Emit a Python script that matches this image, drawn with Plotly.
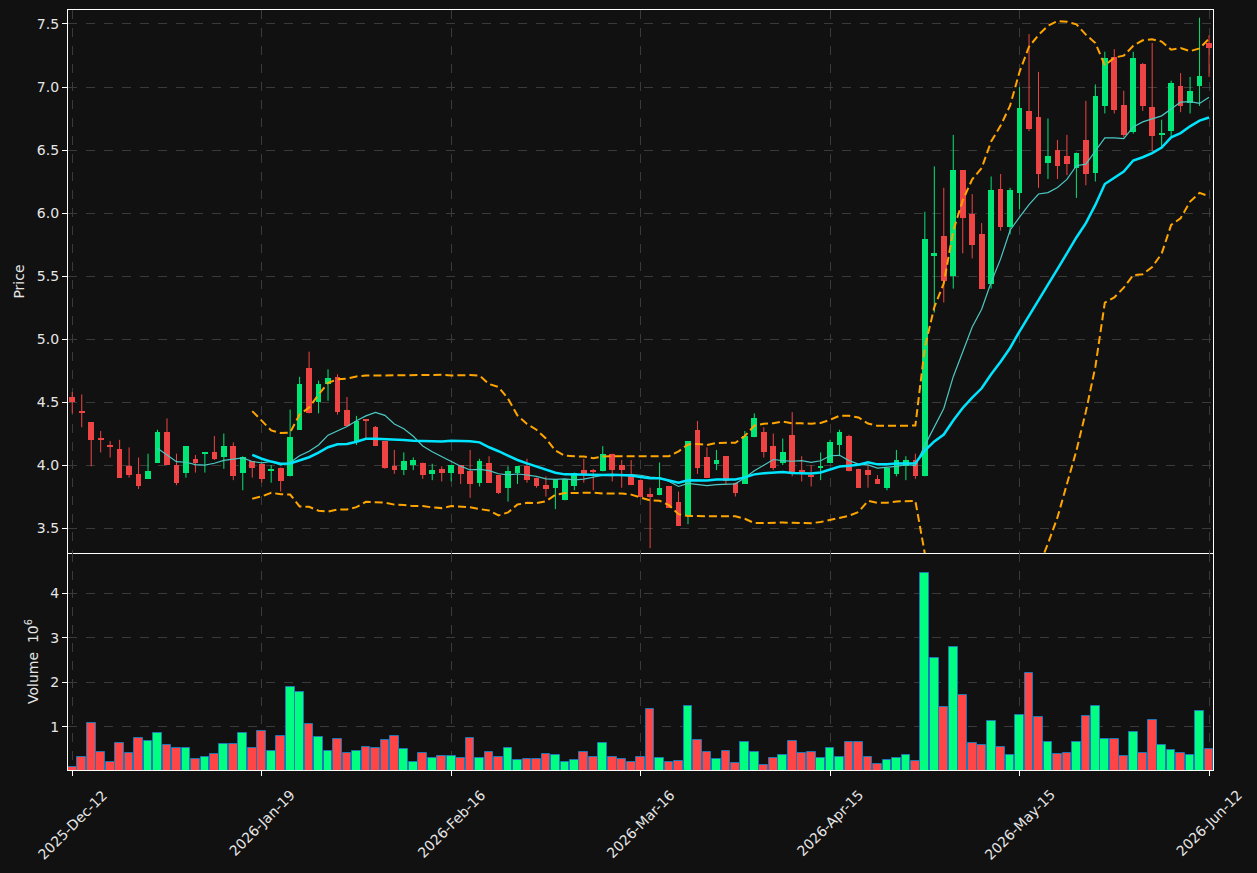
import pandas as pd
import plotly.graph_objects as go

# ---------------- data ----------------
tick_index = [0, 20, 40, 60, 80, 100, 120]
tick_labels = ["2025-Dec-12", "2026-Jan-19", "2026-Feb-16", "2026-Mar-16",
               "2026-Apr-15", "2026-May-15", "2026-Jun-12"]

opens = [4.54, 4.43, 4.34, 4.21, 4.16, 4.13, 3.99, 3.93, 3.89, 4.02,
         4.26, 4.00, 3.94, 4.05, 4.09, 4.10, 4.06, 4.15, 3.94, 4.03,
         4.01, 3.96, 3.98, 3.91, 4.28, 4.77, 4.50, 4.64, 4.70, 4.44,
         4.19, 4.36, 4.30, 4.19, 3.99, 3.96, 4.00, 4.02, 3.93, 3.97,
         3.94, 4.00, 3.95, 3.86, 4.02, 3.92, 3.82, 3.94, 3.99, 3.90,
         3.84, 3.82, 3.72, 3.83, 3.96, 3.96, 3.95, 4.09, 4.00, 3.93,
         3.88, 3.77, 3.76, 3.83, 3.71, 3.60, 4.28, 4.06, 4.01, 4.07,
         3.86, 3.85, 4.22, 4.26, 4.15, 4.02, 4.24, 3.96, 3.92, 3.98,
         4.02, 4.16, 4.23, 3.97, 3.96, 3.89, 3.82, 3.93, 3.99, 4.04,
         3.91, 5.66, 5.82, 5.50, 6.34, 5.99, 5.83, 5.44, 6.19, 5.89,
         6.16, 6.81, 6.76, 6.40, 6.50, 6.45, 6.36, 6.58, 6.32, 6.85,
         7.24, 6.86, 6.64, 7.18, 6.84, 6.62, 6.65, 7.01, 6.87, 7.01,
         7.35]
highs = [4.58, 4.56, 4.34, 4.27, 4.19, 4.20, 4.14, 4.06, 4.09, 4.28,
         4.37, 4.09, 4.15, 4.08, 4.10, 4.23, 4.25, 4.18, 4.07, 4.03,
         4.01, 4.00, 3.98, 4.44, 4.70, 4.90, 4.67, 4.76, 4.72, 4.54,
         4.39, 4.36, 4.31, 4.19, 4.12, 4.10, 4.06, 4.02, 4.01, 3.99,
         4.00, 4.00, 4.12, 4.05, 4.07, 3.92, 3.99, 3.99, 4.05, 3.90,
         3.91, 3.89, 3.89, 3.94, 4.05, 3.97, 4.15, 4.09, 4.04, 4.04,
         3.88, 3.82, 4.02, 3.83, 3.79, 4.19, 4.35, 4.14, 4.12, 4.07,
         3.86, 4.27, 4.41, 4.30, 4.25, 4.21, 4.42, 4.07, 4.00, 4.10,
         4.20, 4.28, 4.24, 3.97, 4.00, 3.92, 3.98, 4.12, 4.07, 4.09,
         6.01, 6.37, 6.20, 6.62, 6.34, 6.15, 5.92, 6.29, 6.31, 6.20,
         7.00, 7.42, 7.12, 6.75, 6.58, 6.62, 6.48, 6.89, 7.02, 7.28,
         7.30, 6.97, 7.28, 7.19, 7.35, 6.74, 7.05, 7.11, 7.08, 7.55,
         7.41]
lows = [4.41, 4.30, 3.99, 4.10, 4.06, 3.90, 3.90, 3.81, 3.89, 4.02,
        4.00, 3.84, 3.90, 3.94, 3.94, 4.04, 3.97, 3.88, 3.80, 3.90,
        3.86, 3.86, 3.79, 3.91, 4.28, 4.41, 4.41, 4.51, 4.40, 4.31,
        4.16, 4.20, 4.15, 3.97, 3.93, 3.92, 3.96, 3.89, 3.88, 3.87,
        3.87, 3.85, 3.74, 3.83, 3.86, 3.77, 3.71, 3.85, 3.86, 3.82,
        3.75, 3.65, 3.72, 3.80, 3.86, 3.80, 3.95, 3.87, 3.82, 3.84,
        3.75, 3.34, 3.76, 3.66, 3.52, 3.53, 3.93, 3.90, 3.96, 3.85,
        3.75, 3.85, 4.22, 4.06, 3.96, 4.00, 3.91, 3.87, 3.83, 3.88,
        4.02, 4.07, 3.95, 3.82, 3.82, 3.85, 3.80, 3.91, 3.88, 3.89,
        3.91, 5.21, 5.29, 5.40, 5.68, 5.64, 5.40, 5.40, 5.86, 5.83,
        6.03, 6.65, 6.20, 6.27, 6.27, 6.30, 6.12, 6.22, 6.25, 6.79,
        6.79, 6.60, 6.63, 6.81, 6.49, 6.51, 6.61, 6.80, 6.79, 6.85,
        7.08]
closes = [4.50, 4.42, 4.20, 4.20, 4.15, 3.90, 3.92, 3.83, 3.95, 4.26,
          4.00, 3.86, 4.15, 4.02, 4.10, 4.05, 4.15, 3.91, 4.06, 3.98,
          3.89, 3.97, 3.87, 4.22, 4.64, 4.41, 4.64, 4.69, 4.42, 4.31,
          4.35, 4.35, 4.15, 3.98, 3.96, 4.03, 4.04, 3.92, 3.96, 3.94,
          4.00, 3.93, 3.85, 4.03, 3.86, 3.78, 3.95, 3.99, 3.88, 3.83,
          3.81, 3.89, 3.89, 3.94, 3.92, 3.95, 4.09, 3.96, 3.96, 3.84,
          3.75, 3.75, 3.82, 3.66, 3.52, 4.19, 3.98, 3.90, 4.04, 3.87,
          3.78, 4.23, 4.37, 4.10, 3.98, 4.10, 3.93, 3.95, 3.91, 3.99,
          4.18, 4.26, 3.95, 3.82, 3.92, 3.85, 3.98, 4.04, 4.04, 3.91,
          5.79, 5.68, 5.46, 6.34, 5.96, 5.75, 5.40, 6.18, 5.89, 6.18,
          6.83, 6.67, 6.31, 6.45, 6.37, 6.39, 6.48, 6.31, 6.93, 7.23,
          6.82, 6.62, 7.23, 6.85, 6.61, 6.63, 7.03, 6.85, 6.97, 7.09,
          7.31]
volume_millions = [0.10, 0.33, 1.09, 0.44, 0.22, 0.64, 0.42, 0.75, 0.69, 0.87,
                   0.58, 0.52, 0.52, 0.28, 0.32, 0.40, 0.62, 0.62, 0.87, 0.52,
                   0.91, 0.46, 0.80, 1.90, 1.78, 1.07, 0.78, 0.46, 0.73, 0.42,
                   0.46, 0.55, 0.53, 0.71, 0.80, 0.51, 0.22, 0.42, 0.31, 0.35,
                   0.35, 0.31, 0.75, 0.31, 0.44, 0.33, 0.53, 0.26, 0.28, 0.28,
                   0.40, 0.37, 0.22, 0.26, 0.44, 0.33, 0.64, 0.33, 0.28, 0.22,
                   0.33, 1.40, 0.31, 0.22, 0.24, 1.47, 0.71, 0.44, 0.28, 0.46,
                   0.19, 0.66, 0.44, 0.15, 0.31, 0.37, 0.69, 0.42, 0.44, 0.31,
                   0.53, 0.33, 0.66, 0.65, 0.33, 0.17, 0.26, 0.31, 0.37, 0.24,
                   4.45, 2.55, 1.45, 2.79, 1.72, 0.64, 0.58, 1.13, 0.55, 0.37,
                   1.27, 2.21, 1.22, 0.66, 0.40, 0.42, 0.66, 1.25, 1.47, 0.73,
                   0.73, 0.35, 0.89, 0.42, 1.16, 0.60, 0.49, 0.42, 0.37, 1.36,
                   0.51]

# ---------------- derived overlays (moving averages / Bollinger) ----------------
n = len(closes)
idx = list(range(n))
cs = pd.Series(closes)
ma10 = cs.rolling(10).mean()
ma20 = cs.rolling(20).mean()
sd20 = cs.rolling(20).std(ddof=0)
bb_up = ma20 + 2 * sd20
bb_lo = ma20 - 2 * sd20

BG = "#111111"
GRID = "#3a3a3a"
TXT = "#e6e6e6"
C_UP = "#00e676"
C_DN = "#ef4444"
V_UP = "#00ff80"
V_DN = "#ff4545"

is_up = [c >= o for o, c in zip(opens, closes)]

fig = go.Figure()

# candle wicks
for flag, col in ((True, C_UP), (False, C_DN)):
    wx, wy = [], []
    for i in idx:
        if is_up[i] == flag:
            wx += [i, i, None]
            wy += [lows[i], highs[i], None]
    fig.add_trace(go.Scatter(x=wx, y=wy, mode="lines", line=dict(color=col, width=1),
                             xaxis="x", yaxis="y", hoverinfo="skip"))

# candle bodies
body_base = [min(o, c) for o, c in zip(opens, closes)]
body_h = [max(abs(c - o), 0.012) for o, c in zip(opens, closes)]
fig.add_trace(go.Bar(x=idx, y=body_h, base=body_base, width=0.6,
                     marker=dict(color=[C_UP if u else C_DN for u in is_up], line=dict(width=0)),
                     xaxis="x", yaxis="y"))

# overlays
fig.add_trace(go.Scatter(x=idx, y=bb_up, mode="lines",
                         line=dict(color="#ffa500", width=2, dash="8px,4px"), xaxis="x", yaxis="y"))
fig.add_trace(go.Scatter(x=idx, y=bb_lo, mode="lines",
                         line=dict(color="#ffa500", width=2, dash="8px,4px"), xaxis="x", yaxis="y"))
fig.add_trace(go.Scatter(x=idx, y=ma10, mode="lines",
                         line=dict(color="#4cc9c4", width=1.2), xaxis="x", yaxis="y"))
fig.add_trace(go.Scatter(x=idx, y=ma20, mode="lines",
                         line=dict(color="#00e5ff", width=2.5), xaxis="x", yaxis="y"))

# volume
fig.add_trace(go.Bar(x=idx, y=volume_millions, width=0.92,
                     marker=dict(color=[V_UP if u else V_DN for u in is_up],
                                 line=dict(color="#1f77b4", width=1)),
                     xaxis="x2", yaxis="y2"))

split = (770 - 553) / 760.0
xr = [-0.45, 120.42]
common_x = dict(range=xr, tickmode="array", tickvals=tick_index, showgrid=True,
                gridcolor=GRID, griddash="dash", gridwidth=1, zeroline=False,
                showline=True, linecolor="#ffffff", linewidth=1.2,
                ticks="outside", ticklen=5, tickcolor="#ffffff", showticklabels=False,
                automargin=False)
common_y = dict(showgrid=True, gridcolor=GRID, griddash="dash", gridwidth=1, zeroline=False,
                showline=True, linecolor="#ffffff", linewidth=1.2, mirror=True,
                ticks="outside", ticklen=5, tickcolor="#ffffff",
                tickfont=dict(size=14, color=TXT, family="DejaVu Sans"),
                automargin=False)

fig.update_layout(
    template="none",
    width=1257, height=873,
    margin=dict(l=68, r=44, t=10, b=103),
    paper_bgcolor=BG, plot_bgcolor=BG,
    showlegend=False, barmode="overlay", bargap=0,
    font=dict(family="DejaVu Sans", size=14, color=TXT),
    xaxis=dict(domain=[0, 1], anchor="y", mirror=True, **common_x),
    xaxis2=dict(domain=[0, 1], anchor="y2", matches="x", mirror=False, **common_x),
    yaxis=dict(domain=[split, 1], anchor="x", range=[3.302, 7.611],
               tickmode="array", tickvals=[3.5, 4.0, 4.5, 5.0, 5.5, 6.0, 6.5, 7.0, 7.5],
               ticktext=["3.5", "4.0", "4.5", "5.0", "5.5", "6.0", "6.5", "7.0", "7.5"],
               title=dict(text="Price", standoff=8, font=dict(size=14, color=TXT)),
               **common_y),
    yaxis2=dict(domain=[0, split], anchor="x2", range=[0.03, 4.90],
                tickmode="array", tickvals=[1, 2, 3, 4], ticktext=["1", "2", "3", "4"],
                title=dict(text="Volume  10<sup>6</sup>", standoff=8, font=dict(size=14, color=TXT)),
                **common_y),
)

for pos, lab in zip(tick_index, tick_labels):
    fig.add_annotation(x=pos, xref="x2", y=0, yref="paper", text=lab, showarrow=False,
                       textangle=-45, xanchor="center", yanchor="top", yshift=-14,
                       font=dict(size=14, color=TXT, family="DejaVu Sans"))

fig.write_html("out.html")
